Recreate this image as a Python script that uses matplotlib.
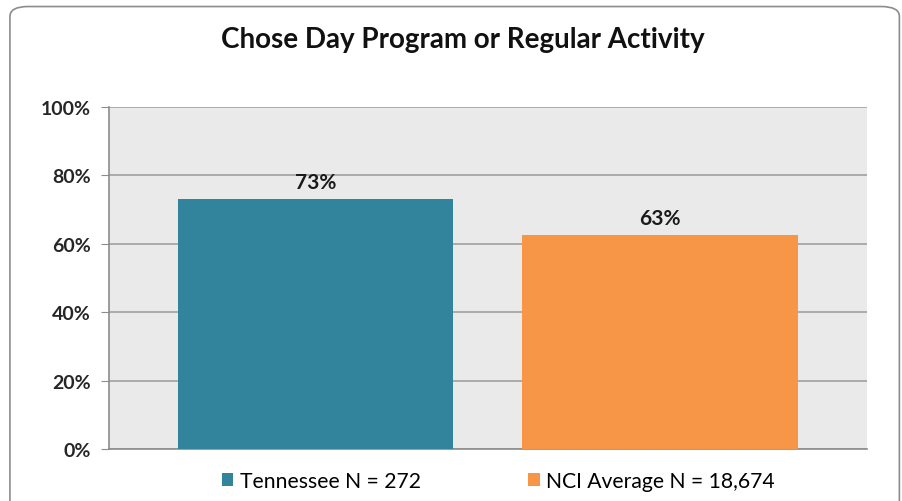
import matplotlib.pyplot as plt
from matplotlib.patches import FancyBboxPatch, Patch
from matplotlib.ticker import PercentFormatter

series = ['Tennessee N = 272', 'NCI Average N = 18,674']
values = [0.73, 0.625]
labels = ['73%', '63%']
colors = ['#31849B', '#F79646']

plt.rcParams['font.family'] = ['Lato', 'DejaVu Sans']

fig = plt.figure(figsize=(9.03, 5.02), dpi=100)

# rounded chart border
border = FancyBboxPatch((0.011, -0.05), 0.985, 1.035,
                        boxstyle='round,pad=0,rounding_size=0.02',
                        transform=fig.transFigure, facecolor='white',
                        edgecolor='#8c8c8c', linewidth=1.2, zorder=-10)
fig.patches.append(border)

ax = fig.add_axes([0.1207, 0.1036, 0.8393, 0.6814])
ax.set_facecolor('#EAEAEA')

positions = [-0.2275, 0.2275]
bars = ax.bar(positions, values, width=0.364, color=colors, zorder=3)
for b, lab in zip(bars, labels):
    ax.text(b.get_x() + b.get_width() / 2, b.get_height() + 0.02, lab,
            ha='center', va='bottom', fontsize=15, fontweight='bold', color='#1a1a1a')

ax.set_xlim(-0.5, 0.5)
ax.set_ylim(0, 1)
ax.set_yticks([0, 0.2, 0.4, 0.6, 0.8, 1.0])
ax.yaxis.set_major_formatter(PercentFormatter(1.0, decimals=0))
ax.grid(axis='y', color='#a0a0a0', linewidth=1.2, zorder=0)
ax.set_xticks([])
for s in ['top', 'right']:
    ax.spines[s].set_visible(False)
for s in ['left', 'bottom']:
    ax.spines[s].set_color('#8c8c8c')
    ax.spines[s].set_linewidth(1.2)
ax.tick_params(axis='y', length=6, color='#8c8c8c', labelsize=14, pad=7)
for t in ax.get_yticklabels():
    t.set_fontweight('bold')
    t.set_color('#262626')

fig.text(0.513, 0.921, 'Chose Day Program or Regular Activity', ha='center', va='center',
         fontsize=20, fontweight='bold', color='#111111')

handles = [Patch(facecolor=c) for c in colors]
fig.legend(handles, series, loc='center', bbox_to_anchor=(0.552, 0.04), ncol=2,
           frameon=False, fontsize=15.2, handlelength=0.55, handleheight=0.55,
           handletextpad=0.3, columnspacing=5.1)

fig.savefig('out.png', dpi=100)
